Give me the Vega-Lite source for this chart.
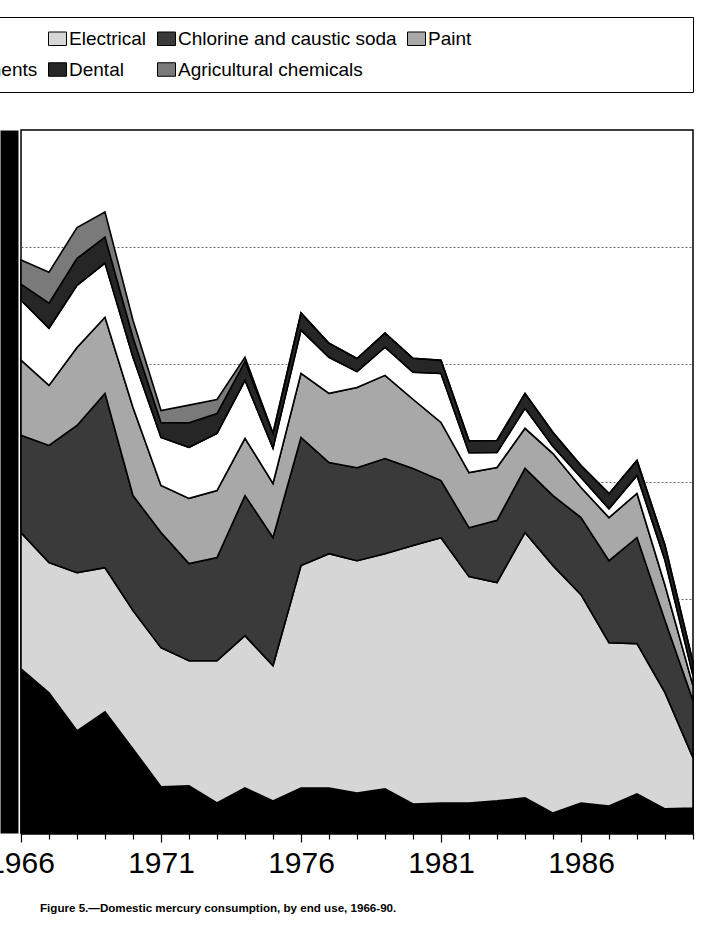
{
  "$schema": "https://vega.github.io/schema/vega-lite/v6.json",
  "width": 672,
  "height": 703,
  "autosize": {"type": "none"},
  "padding": {"left": 21, "top": 130, "right": 22, "bottom": 95},
  "background": "white",
  "config": {
    "font": "Liberation Sans",
    "view": {"stroke": "black", "strokeWidth": 1.5}
  },
  "title": {
    "text": "Figure 5.—Domestic mercury consumption, by end use, 1966-90.",
    "orient": "bottom",
    "anchor": "start",
    "frame": "group",
    "fontSize": 11.6,
    "fontWeight": "bold",
    "color": "black",
    "dx": 19,
    "offset": 25
  },
  "data": {
    "values": [
      {"year": 1966, "use": "Other", "t": 701}, {"year": 1966, "use": "Electrical", "t": 581}, {"year": 1966, "use": "Chlorine and caustic soda", "t": 415}, {"year": 1966, "use": "Paint", "t": 321}, {"year": 1966, "use": "Instruments", "t": 256}, {"year": 1966, "use": "Dental", "t": 68}, {"year": 1966, "use": "Agricultural chemicals", "t": 103},
      {"year": 1967, "use": "Other", "t": 598}, {"year": 1967, "use": "Electrical", "t": 556}, {"year": 1967, "use": "Chlorine and caustic soda", "t": 500}, {"year": 1967, "use": "Paint", "t": 256}, {"year": 1967, "use": "Instruments", "t": 244}, {"year": 1967, "use": "Dental", "t": 107}, {"year": 1967, "use": "Agricultural chemicals", "t": 132},
      {"year": 1968, "use": "Other", "t": 436}, {"year": 1968, "use": "Electrical", "t": 675}, {"year": 1968, "use": "Chlorine and caustic soda", "t": 628}, {"year": 1968, "use": "Paint", "t": 333}, {"year": 1968, "use": "Instruments", "t": 265}, {"year": 1968, "use": "Dental", "t": 115}, {"year": 1968, "use": "Agricultural chemicals", "t": 132},
      {"year": 1969, "use": "Other", "t": 517}, {"year": 1969, "use": "Electrical", "t": 615}, {"year": 1969, "use": "Chlorine and caustic soda", "t": 744}, {"year": 1969, "use": "Paint", "t": 325}, {"year": 1969, "use": "Instruments", "t": 231}, {"year": 1969, "use": "Dental", "t": 111}, {"year": 1969, "use": "Agricultural chemicals", "t": 107},
      {"year": 1970, "use": "Other", "t": 359}, {"year": 1970, "use": "Electrical", "t": 590}, {"year": 1970, "use": "Chlorine and caustic soda", "t": 491}, {"year": 1970, "use": "Paint", "t": 376}, {"year": 1970, "use": "Instruments", "t": 214}, {"year": 1970, "use": "Dental", "t": 85}, {"year": 1970, "use": "Agricultural chemicals", "t": 73},
      {"year": 1971, "use": "Other", "t": 197}, {"year": 1971, "use": "Electrical", "t": 594}, {"year": 1971, "use": "Chlorine and caustic soda", "t": 491}, {"year": 1971, "use": "Paint", "t": 201}, {"year": 1971, "use": "Instruments", "t": 205}, {"year": 1971, "use": "Dental", "t": 64}, {"year": 1971, "use": "Agricultural chemicals", "t": 51},
      {"year": 1972, "use": "Other", "t": 201}, {"year": 1972, "use": "Electrical", "t": 534}, {"year": 1972, "use": "Chlorine and caustic soda", "t": 415}, {"year": 1972, "use": "Paint", "t": 278}, {"year": 1972, "use": "Instruments", "t": 218}, {"year": 1972, "use": "Dental", "t": 105}, {"year": 1972, "use": "Agricultural chemicals", "t": 75},
      {"year": 1973, "use": "Other", "t": 128}, {"year": 1973, "use": "Electrical", "t": 607}, {"year": 1973, "use": "Chlorine and caustic soda", "t": 440}, {"year": 1973, "use": "Paint", "t": 286}, {"year": 1973, "use": "Instruments", "t": 244}, {"year": 1973, "use": "Dental", "t": 85}, {"year": 1973, "use": "Agricultural chemicals", "t": 60},
      {"year": 1974, "use": "Other", "t": 192}, {"year": 1974, "use": "Electrical", "t": 650}, {"year": 1974, "use": "Chlorine and caustic soda", "t": 598}, {"year": 1974, "use": "Paint", "t": 244}, {"year": 1974, "use": "Instruments", "t": 248}, {"year": 1974, "use": "Dental", "t": 81}, {"year": 1974, "use": "Agricultural chemicals", "t": 17},
      {"year": 1975, "use": "Other", "t": 137}, {"year": 1975, "use": "Electrical", "t": 577}, {"year": 1975, "use": "Chlorine and caustic soda", "t": 547}, {"year": 1975, "use": "Paint", "t": 231}, {"year": 1975, "use": "Instruments", "t": 150}, {"year": 1975, "use": "Dental", "t": 64}, {"year": 1975, "use": "Agricultural chemicals", "t": 0},
      {"year": 1976, "use": "Other", "t": 192}, {"year": 1976, "use": "Electrical", "t": 949}, {"year": 1976, "use": "Chlorine and caustic soda", "t": 547}, {"year": 1976, "use": "Paint", "t": 274}, {"year": 1976, "use": "Instruments", "t": 184}, {"year": 1976, "use": "Dental", "t": 73}, {"year": 1976, "use": "Agricultural chemicals", "t": 0},
      {"year": 1977, "use": "Other", "t": 192}, {"year": 1977, "use": "Electrical", "t": 1000}, {"year": 1977, "use": "Chlorine and caustic soda", "t": 389}, {"year": 1977, "use": "Paint", "t": 295}, {"year": 1977, "use": "Instruments", "t": 154}, {"year": 1977, "use": "Dental", "t": 60}, {"year": 1977, "use": "Agricultural chemicals", "t": 0},
      {"year": 1978, "use": "Other", "t": 171}, {"year": 1978, "use": "Electrical", "t": 991}, {"year": 1978, "use": "Chlorine and caustic soda", "t": 397}, {"year": 1978, "use": "Paint", "t": 342}, {"year": 1978, "use": "Instruments", "t": 68}, {"year": 1978, "use": "Dental", "t": 56}, {"year": 1978, "use": "Agricultural chemicals", "t": 0},
      {"year": 1979, "use": "Other", "t": 188}, {"year": 1979, "use": "Electrical", "t": 1004}, {"year": 1979, "use": "Chlorine and caustic soda", "t": 406}, {"year": 1979, "use": "Paint", "t": 355}, {"year": 1979, "use": "Instruments", "t": 120}, {"year": 1979, "use": "Dental", "t": 60}, {"year": 1979, "use": "Agricultural chemicals", "t": 0},
      {"year": 1980, "use": "Other", "t": 124}, {"year": 1980, "use": "Electrical", "t": 1103}, {"year": 1980, "use": "Chlorine and caustic soda", "t": 329}, {"year": 1980, "use": "Paint", "t": 295}, {"year": 1980, "use": "Instruments", "t": 115}, {"year": 1980, "use": "Dental", "t": 60}, {"year": 1980, "use": "Agricultural chemicals", "t": 0},
      {"year": 1981, "use": "Other", "t": 128}, {"year": 1981, "use": "Electrical", "t": 1132}, {"year": 1981, "use": "Chlorine and caustic soda", "t": 244}, {"year": 1981, "use": "Paint", "t": 248}, {"year": 1981, "use": "Instruments", "t": 209}, {"year": 1981, "use": "Dental", "t": 56}, {"year": 1981, "use": "Agricultural chemicals", "t": 0},
      {"year": 1982, "use": "Other", "t": 128}, {"year": 1982, "use": "Electrical", "t": 966}, {"year": 1982, "use": "Chlorine and caustic soda", "t": 209}, {"year": 1982, "use": "Paint", "t": 235}, {"year": 1982, "use": "Instruments", "t": 85}, {"year": 1982, "use": "Dental", "t": 51}, {"year": 1982, "use": "Agricultural chemicals", "t": 0},
      {"year": 1983, "use": "Other", "t": 137}, {"year": 1983, "use": "Electrical", "t": 932}, {"year": 1983, "use": "Chlorine and caustic soda", "t": 265}, {"year": 1983, "use": "Paint", "t": 226}, {"year": 1983, "use": "Instruments", "t": 64}, {"year": 1983, "use": "Dental", "t": 51}, {"year": 1983, "use": "Agricultural chemicals", "t": 0},
      {"year": 1984, "use": "Other", "t": 150}, {"year": 1984, "use": "Electrical", "t": 1132}, {"year": 1984, "use": "Chlorine and caustic soda", "t": 274}, {"year": 1984, "use": "Paint", "t": 171}, {"year": 1984, "use": "Instruments", "t": 85}, {"year": 1984, "use": "Dental", "t": 64}, {"year": 1984, "use": "Agricultural chemicals", "t": 0},
      {"year": 1985, "use": "Other", "t": 85}, {"year": 1985, "use": "Electrical", "t": 1056}, {"year": 1985, "use": "Chlorine and caustic soda", "t": 299}, {"year": 1985, "use": "Paint", "t": 179}, {"year": 1985, "use": "Instruments", "t": 30}, {"year": 1985, "use": "Dental", "t": 60}, {"year": 1985, "use": "Agricultural chemicals", "t": 0},
      {"year": 1986, "use": "Other", "t": 128}, {"year": 1986, "use": "Electrical", "t": 889}, {"year": 1986, "use": "Chlorine and caustic soda", "t": 329}, {"year": 1986, "use": "Paint", "t": 128}, {"year": 1986, "use": "Instruments", "t": 43}, {"year": 1986, "use": "Dental", "t": 51}, {"year": 1986, "use": "Agricultural chemicals", "t": 0},
      {"year": 1987, "use": "Other", "t": 115}, {"year": 1987, "use": "Electrical", "t": 697}, {"year": 1987, "use": "Chlorine and caustic soda", "t": 350}, {"year": 1987, "use": "Paint", "t": 184}, {"year": 1987, "use": "Instruments", "t": 38}, {"year": 1987, "use": "Dental", "t": 64}, {"year": 1987, "use": "Agricultural chemicals", "t": 0},
      {"year": 1988, "use": "Other", "t": 167}, {"year": 1988, "use": "Electrical", "t": 641}, {"year": 1988, "use": "Chlorine and caustic soda", "t": 453}, {"year": 1988, "use": "Paint", "t": 188}, {"year": 1988, "use": "Instruments", "t": 77}, {"year": 1988, "use": "Dental", "t": 64}, {"year": 1988, "use": "Agricultural chemicals", "t": 0},
      {"year": 1989, "use": "Other", "t": 103}, {"year": 1989, "use": "Electrical", "t": 496}, {"year": 1989, "use": "Chlorine and caustic soda", "t": 308}, {"year": 1989, "use": "Paint", "t": 150}, {"year": 1989, "use": "Instruments", "t": 107}, {"year": 1989, "use": "Dental", "t": 64}, {"year": 1989, "use": "Agricultural chemicals", "t": 0},
      {"year": 1990, "use": "Other", "t": 107}, {"year": 1990, "use": "Electrical", "t": 214}, {"year": 1990, "use": "Chlorine and caustic soda", "t": 244}, {"year": 1990, "use": "Paint", "t": 64}, {"year": 1990, "use": "Instruments", "t": 43}, {"year": 1990, "use": "Dental", "t": 56}, {"year": 1990, "use": "Agricultural chemicals", "t": 0}
    ]
  },
  "transform": [
    {
      "lookup": "use",
      "from": {
        "data": {
          "values": [
            {"use": "Other", "k": 0},
            {"use": "Electrical", "k": 1},
            {"use": "Chlorine and caustic soda", "k": 2},
            {"use": "Paint", "k": 3},
            {"use": "Instruments", "k": 4},
            {"use": "Dental", "k": 5},
            {"use": "Agricultural chemicals", "k": 6}
          ]
        },
        "key": "use",
        "fields": ["k"]
      }
    }
  ],
  "mark": {"type": "area", "stroke": "black", "strokeWidth": 1.6, "opacity": 1},
  "encoding": {
    "x": {
      "field": "year",
      "type": "quantitative",
      "scale": {"domain": [1966, 1990], "nice": false, "zero": false},
      "axis": {
        "title": null,
        "values": [1966, 1967, 1968, 1969, 1970, 1971, 1972, 1973, 1974, 1975, 1976, 1977, 1978, 1979, 1980, 1981, 1982, 1983, 1984, 1985, 1986, 1987, 1988, 1989, 1990],
        "format": "d",
        "labelExpr": "(datum.value - 1966) % 5 == 0 ? datum.label : ''",
        "labelFontSize": 30,
        "labelColor": "black",
        "labelFlush": false,
        "labelOverlap": false,
        "labelPadding": 6,
        "tickColor": "black",
        "tickWidth": 1.2,
        "tickSize": {"condition": {"test": "(datum.value - 1966) % 5 == 0", "value": 9}, "value": 6},
        "domainColor": "black",
        "domainWidth": 2.5,
        "grid": false
      }
    },
    "y": {
      "field": "t",
      "type": "quantitative",
      "stack": "zero",
      "scale": {"domain": [0, 3000], "nice": false},
      "axis": {
        "title": null,
        "labels": false,
        "ticks": false,
        "values": [500, 1000, 1500, 2000, 2500],
        "grid": true,
        "gridColor": "#444444",
        "gridDash": [2, 2],
        "gridWidth": 0.8,
        "domain": true,
        "domainColor": "black",
        "domainWidth": 18,
        "offset": 12
      }
    },
    "color": {
      "field": "use",
      "type": "nominal",
      "scale": {
        "domain": ["Other", "Electrical", "Chlorine and caustic soda", "Paint", "Instruments", "Dental", "Agricultural chemicals"],
        "range": ["#000000", "#d6d6d6", "#3a3a3a", "#a8a8a8", "#ffffff", "#262626", "#7a7a7a"]
      },
      "legend": {
        "orient": "none",
        "direction": "horizontal",
        "legendX": -116,
        "legendY": -113,
        "columns": 4,
        "title": null,
        "symbolType": "M-1,-0.75H1V0.75H-1Z",
        "symbolSize": 324,
        "symbolStrokeColor": "black",
        "symbolStrokeWidth": 1,
        "labelFontSize": 19,
        "labelColor": "black",
        "labelLimit": 600,
        "labelOffset": 2,
        "columnPadding": 8,
        "rowPadding": 11,
        "padding": 12,
        "strokeColor": "black",
        "labelExpr": "datum.label == 'Paint' ? 'Paint\u00a0\u00a0\u00a0\u00a0\u00a0\u00a0\u00a0\u00a0\u00a0\u00a0\u00a0\u00a0\u00a0\u00a0\u00a0\u00a0\u00a0\u00a0\u00a0\u00a0\u00a0\u00a0\u00a0\u00a0\u00a0\u00a0\u00a0\u00a0\u00a0\u00a0\u00a0\u00a0\u00a0\u00a0\u00a0\u00a0\u00a0\u2800' : datum.label"
      }
    },
    "order": {"field": "k", "type": "quantitative"}
  }
}
